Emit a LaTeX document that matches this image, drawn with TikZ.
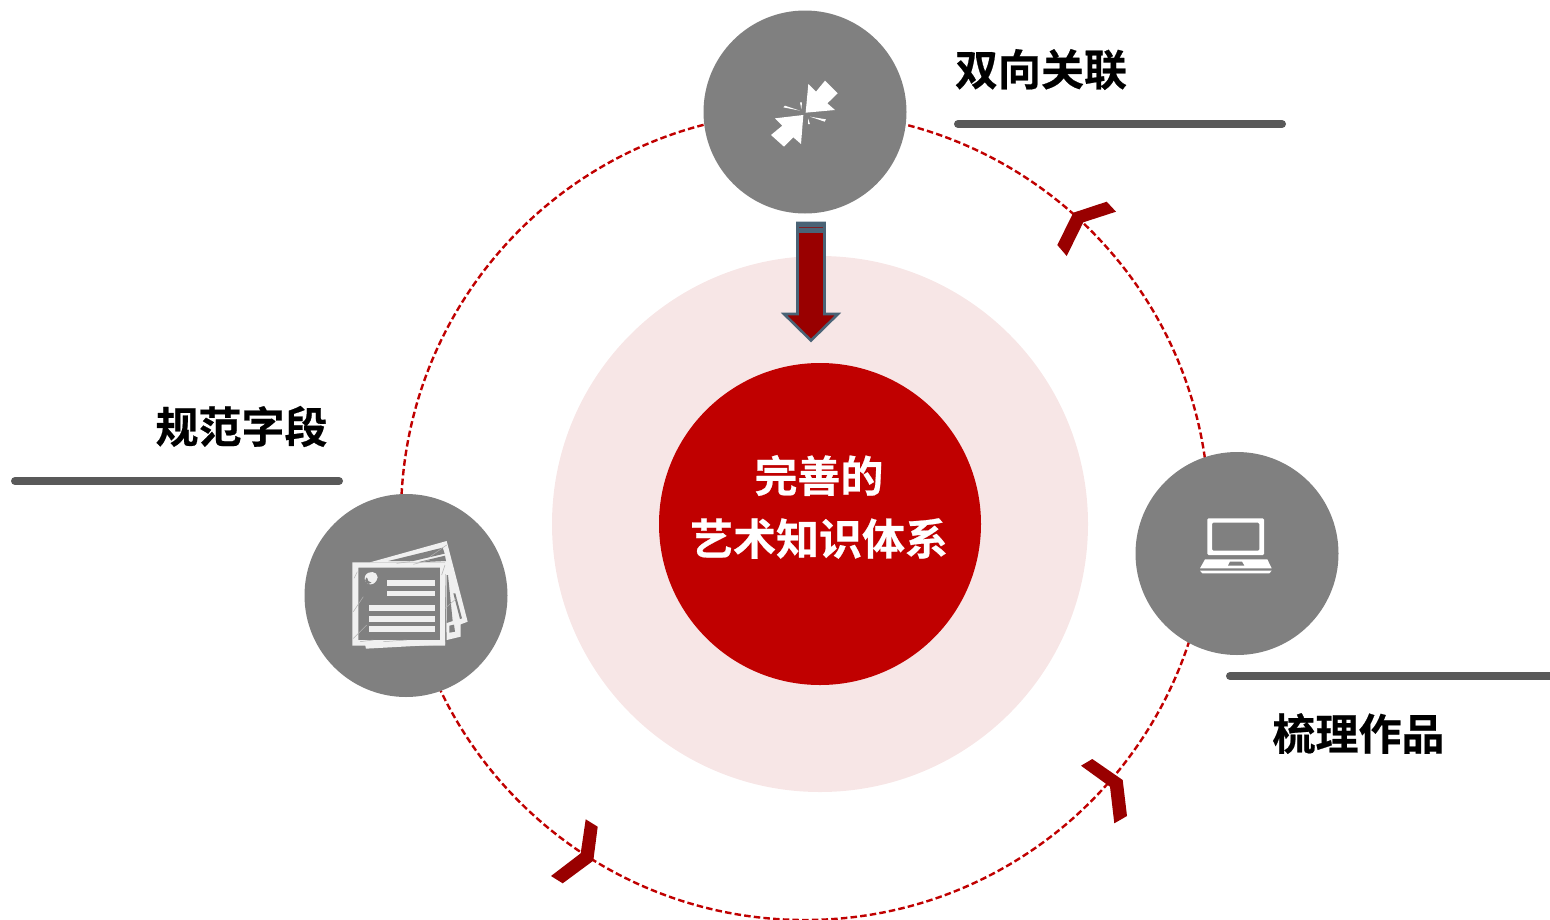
\documentclass[tikz,border=0pt]{standalone}
\usepackage{fontspec}
\setmainfont{Noto Sans CJK SC}
\newfontfamily\cjkb{Noto Sans CJK SC Bold}[FakeBold=0.5]
\definecolor{ringred}{HTML}{C00000}
\definecolor{chev}{HTML}{990000}
\definecolor{pale}{HTML}{F7E6E6}
\definecolor{discgray}{HTML}{808080}
\definecolor{rulegray}{HTML}{595959}
\definecolor{arrowedge}{HTML}{4A6376}
\definecolor{iconw}{HTML}{F0F0F0}
\tikzset{
  disc/.style={circle,fill=discgray,draw=none,minimum size=203pt,inner sep=0pt},
  ring/.style={circle,draw=ringred,line width=2.4pt,dash pattern=on 6.5pt off 3.2pt,minimum size=808pt,inner sep=0pt},
  chevron/.style={fill=chev,draw=none},
  rulebar/.style={draw=rulegray,line width=8pt,line cap=round},
  title/.style={font=\cjkb\fontsize{43}{50}\selectfont,text=black,inner sep=0pt},
  centertext/.style={font=\cjkb\fontsize{43}{50}\selectfont,text=white,inner sep=0pt},
  icon/.style={fill=white,draw=none},
  zoomgrid/.style={x=0.33333pt,y=-0.33333pt}
}
\begin{document}
\begin{tikzpicture}[x=1pt,y=-1pt]
\useasboundingbox (0,0) rectangle (1550,919);
\clip (0,0) rectangle (1550,919);
\node[circle,fill=pale,minimum size=536pt,inner sep=0pt] (halo) at (820,524) {};
\node[ring] (ring) at (805,516) {};
\node[circle,fill=ringred,minimum size=322pt,inner sep=0pt] (core) at (820,524) {};
\node[centertext] (t1) at (819,475.5) {完善的};
\node[centertext] (t2) at (819,538.5) {艺术知识体系};

% central arrow
\filldraw[fill=chev,draw=arrowedge,line width=2.6pt,line join=miter]
  (797.5,223) -- (824.5,223) -- (824.5,314) -- (838,314) -- (811,340.5) -- (784,314) -- (797.5,314) -- cycle;
\fill[arrowedge] (797.5,222) rectangle (824.5,233);
\draw[chev!70!arrowedge,line width=1pt] (799,227.5) -- (823,227.5);

% discs
\node[disc] (top) at (805,112) {};
\node[disc] (right) at (1237,553.5) {};
\node[disc] (left) at (406,595.5) {};

% chevrons
\fill[chevron] (1106.7,201.7) -- (1116,211.7) -- (1083.3,222.3) -- (1066.7,256) -- (1057.3,245) -- (1073.3,212.7) -- cycle;
\fill[chevron] (1092.3,759) -- (1122.7,780) -- (1127,816) -- (1114.3,823.3) -- (1110,786.7) -- (1081,765.7) -- cycle;
\fill[chevron] (585.7,819.3) -- (597.7,826.7) -- (593.3,860.7) -- (562.7,883.3) -- (551,876) -- (580.7,853.3) -- cycle;

% rules
\coordinate (r1a) at (958,124); \coordinate (r1b) at (1282,124);
\coordinate (r2a) at (15,481);  \coordinate (r2b) at (339,481);
\coordinate (r3a) at (1230,676); \coordinate (r3b) at (1560,676);
\draw[rulebar] (r1a) -- (r1b);
\draw[rulebar] (r2a) -- (r2b);
\draw[rulebar] (r3a) -- (r3b);

% titles
\node[title] (a) at (1041,69.5) {双向关联};
\node[title] (b) at (241.5,426.5) {规范字段};
\node[title] (c) at (1358.5,733.5) {梳理作品};

% icon: arrows meeting
\begin{scope}[shift={(740,60)},zoomgrid]
\fill[icon] (205,72) -- (228,95) -- (255,62) -- (293,100) -- (262,130) -- (285,150) -- (197,158) -- cycle;
\fill[icon] (190,165) -- (105,175) -- (127,197) -- (93,225) -- (132,260) -- (160,232) -- (183,252) -- cycle;
\fill[icon] (130,142) -- (135,137) -- (180,152) -- cycle;
\fill[icon] (180,127) -- (186,127) -- (184,148) -- cycle;
\fill[icon] (210,170) -- (258,178) -- (254,185) -- cycle;
\fill[icon] (204,175) -- (210,192) -- (204,192) -- cycle;
\end{scope}

% icon: laptop
\begin{scope}[shift={(1180,500)},zoomgrid]
\fill[icon,even odd rule,rounded corners=1.2pt] (82,55) rectangle (252,165) (96,68) rectangle (238,152);
\fill[icon] (75,178) -- (262,178) -- (275,205) -- (60,205) -- cycle;
\fill[discgray] (150,185) -- (186,185) -- (193,197) -- (144,197) -- cycle;
\fill[icon] (60,212) -- (275,212) -- (268,220) -- (67,220) -- cycle;
\end{scope}

% icon: papers
\begin{scope}[shift={(330,525)},zoomgrid]
\fill[iconw] (120,112) -- (350,48) -- (413,290) -- (392,298) -- (392,335) -- (350,345) -- (345,112) -- cycle;
\fill[discgray] (175,108) -- (338,68) -- (344,86) -- (250,108) -- cycle;
\fill[discgray] (262,112) -- (345,92) -- (348,108) -- cycle;
\fill[discgray] (350,150) -- (354,150) -- (368,288) -- (350,294) -- cycle;
\fill[discgray] (370,205) -- (376,205) -- (396,280) -- (390,282) -- cycle;
\fill[discgray] (358,302) -- (372,299) -- (375,320) -- (358,323) -- cycle;
\fill[iconw] (105,358) -- (345,350) -- (345,358) -- (108,371) -- cycle;
\fill[iconw,even odd rule] (67,112) rectangle (345,362) (85,128) rectangle (330,345);
\fill[iconw] (170,165) rectangle (315,183);
\fill[iconw] (170,198) rectangle (315,213);
\fill[iconw] (117,240) rectangle (315,258);
\fill[iconw] (117,273) rectangle (315,291);
\fill[iconw] (117,303) rectangle (315,321);
\fill[iconw] (122,160) circle[radius=18];
\fill[discgray] (116,166) circle[radius=10.5];
\fill[iconw] (127,157) circle[radius=16];
\foreach \a/\b/\c/\d in {70/260/100/215,70/340/110/300,90/350/130/345,160/350/230/345,250/118/300/105,335/150/345/120,345/250/380/220,72/160/82/140,200/115/240/110,350/60/300/95}
  \draw[gray!60,line width=0.5pt] (\a,\b) -- (\c,\d);
\end{scope}
\end{tikzpicture}
\end{document}
